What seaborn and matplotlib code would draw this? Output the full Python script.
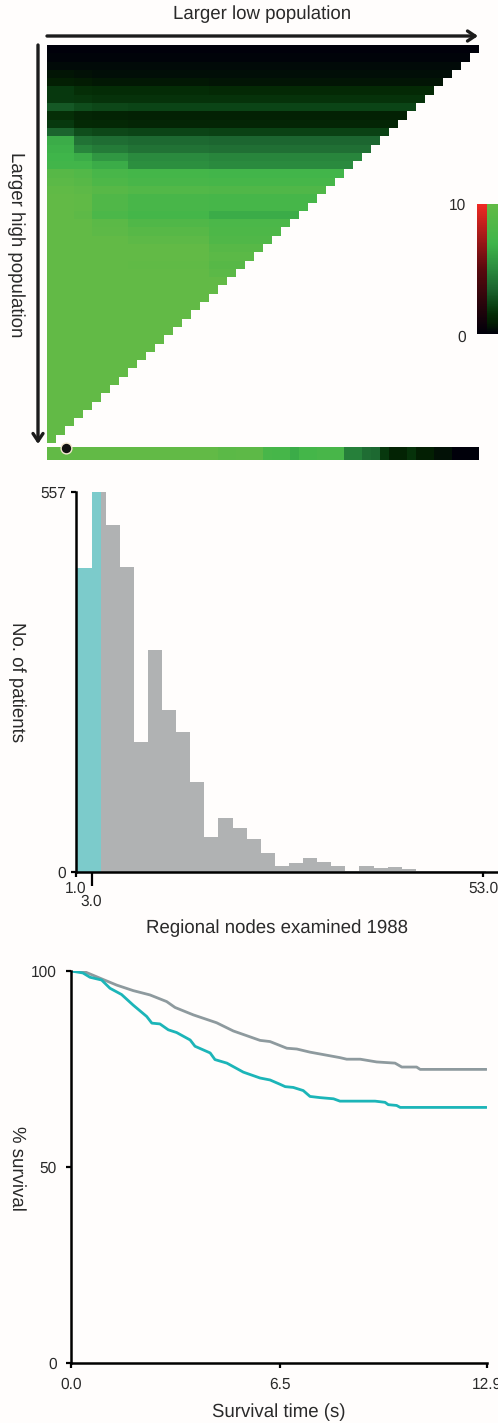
import matplotlib
matplotlib.use("Agg")
import matplotlib.pyplot as plt
from matplotlib.colors import LinearSegmentedColormap
import seaborn as sns
import numpy as np
import pandas as pd

# heatmap: one row of values per high population, columns grouped where colour is the same
group_widths = [3, 2, 4, 9, 16, 14]
heat_rows = [
    [0.0, 0.0, 0.0, 0.0, 0.0, 0.0], [0.1, 0.1, 0.1, 0.1, 0.1, 0.1], [0.3, 0.3, 0.3, 0.3, 0.3, 0.3],
    [0.6, 0.5, 0.4, 0.4, 0.4, 0.4], [0.9, 0.8, 0.7, 0.7, 0.6, 0.6], [1.9, 1.6, 1.5, 1.5, 1.4, 1.4],
    [1.9, 1.8, 1.7, 1.7, 1.7, 1.7], [3.0, 2.6, 2.4, 2.3, 2.3, 2.3], [1.6, 1.2, 1.1, 1.0, 1.0, 1.0],
    [1.9, 1.4, 1.3, 1.2, 1.2, 1.2], [3.4, 2.6, 2.4, 2.3, 2.2, 2.2], [6.6, 4.0, 3.8, 3.6, 3.5, 3.5],
    [6.8, 4.8, 4.4, 4.0, 3.9, 3.9], [7.0, 6.6, 5.6, 5.0, 4.8, 4.8], [7.2, 7.2, 6.6, 5.2, 5.0, 5.0],
    [9.0, 8.6, 7.8, 7.4, 7.2, 7.0], [9.4, 9.0, 8.2, 7.8, 7.6, 7.4], [9.8, 9.6, 9.0, 8.6, 8.4, 8.4],
    [10, 9.8, 8.4, 7.8, 7.6, 7.5], [10, 9.8, 8.4, 7.8, 7.6, 7.4], [10, 9.6, 8.0, 7.4, 6.6, 6.6],
    [10, 10, 9.4, 8.4, 8.0, 7.6], [10, 10, 9.6, 9.0, 8.2, 7.8], [10, 10, 10, 9.6, 8.4, 8.2],
    [10, 10, 10, 10, 9.0, 8.6], [10, 10, 10, 10, 9.4, 9.2], [10, 10, 10, 9.8, 9.0, 9.0],
    [10, 10, 10, 10, 9.4, 9.4], [10, 10, 10, 10, 10, 10], [10, 10, 10, 10, 10, 10],
    [10, 10, 10, 10, 10, 10], [10, 10, 10, 10, 10, 10], [10, 10, 10, 10, 10, 10],
    [10, 10, 10, 10, 10, 10], [10, 10, 10, 10, 10, 10], [10, 10, 10, 10, 10, 10],
    [10, 10, 10, 10, 10, 10], [10, 10, 10, 10, 10, 10], [10, 10, 10, 10, 10, 10],
    [10, 10, 10, 10, 10, 10], [10, 10, 10, 10, 10, 10], [10, 10, 10, 10, 10, 10],
    [10, 10, 10, 10, 10, 10], [10, 10, 10, 10, 10, 10], [10, 10, 10, 10, 10, 10],
    [10, 10, 10, 10, 10, 10], [10, 10, 10, 10, 10, 10], [10, 10, 10, 10, 10, 10],
]
strip_values = [10] * 19 + [9.4, 9.4, 9.6, 9.6, 9.6, 7.8, 7.6, 7.6, 6.6, 7.4, 7.4, 7.8, 7.8, 7.8,
                            4.6, 4.6, 3.8, 3.6, 1.9, 1.1, 1.1, 1.7, 0.9, 0.9, 0.5, 0.5, 0, 0, 0]

# histogram of nodes examined
teal_edges = [1.0, 3.0, 4.2]
teal_counts = [446, 640]
grey_edges = [4.2, 4.8, 6.6, 8.4, 10.2, 12.0, 13.8, 15.6, 17.4, 19.2, 21.0, 22.8, 24.6, 26.4, 28.2,
              30.0, 31.8, 33.6, 35.4, 37.2, 39.0, 40.8, 42.6, 44.4, 46.2, 48.0, 49.8, 51.6, 53.4]
grey_counts = [640, 508, 447, 190, 325, 238, 205, 132, 51, 79, 64, 48, 28, 9, 13, 20, 15, 9, 2, 9,
               6, 7, 4, 2, 1, 1, 1, 1]

# survival curves
grey_time = [0, 0.37, 0.95, 1.42, 1.93, 2.45, 2.97, 3.23, 3.80, 4.52, 5.04, 5.56, 5.87, 6.18, 6.70,
             7.01, 7.42, 8.35, 8.56, 8.98, 9.49, 10.06, 10.27, 10.73, 10.84, 12.9]
grey_surv = [100, 100, 98.0, 96.4, 95.0, 93.9, 92.2, 90.7, 88.8, 86.8, 84.7, 83.2, 82.3, 82.0, 80.3,
             80.1, 79.3, 77.9, 77.5, 77.5, 76.8, 76.5, 75.5, 75.5, 74.9, 74.9]
teal_time = [0, 0.37, 0.59, 0.95, 1.21, 1.57, 1.93, 2.35, 2.51, 2.76, 3.02, 3.28, 3.70, 3.85, 4.32,
             4.47, 4.84, 5.35, 5.87, 6.18, 6.49, 6.65, 6.90, 7.21, 7.42, 7.73, 8.15, 8.35, 9.44,
             9.75, 9.85, 10.11, 10.22, 12.9]
teal_surv = [100, 99.5, 98.4, 97.7, 95.6, 94.0, 91.3, 88.4, 86.7, 86.5, 85.0, 84.3, 82.4, 80.8, 79.1,
             77.4, 76.5, 74.2, 72.7, 72.2, 71.1, 70.5, 70.3, 69.5, 68.0, 67.7, 67.4, 66.8, 66.8,
             66.5, 65.9, 65.7, 65.2, 65.2]

W, H = 498, 1423
BG = "#FFFDFC"
TEXT = "#2a2a2a"
TEAL = "#7CCBCB"
GREY = "#B0B2B3"
LABEL_SIZE = 13.4

sns.set_theme(style="white")
plt.rcParams["font.family"] = ["Liberation Sans", "DejaVu Sans"]
plt.rcParams["text.hinting"] = "none"

green_cmap = LinearSegmentedColormap.from_list("green", [
    (0.0, "#00000a"), (0.08, "#031d03"), (0.15, "#042c06"), (0.22, "#0a4214"),
    (0.35, "#1c6630"), (0.5, "#2a8a3e"), (0.7, "#3fb54a"), (1.0, "#62ba46")])
red_cmap = LinearSegmentedColormap.from_list("red", ["#00000a", "#5a0a0e", "#ee2a24"])


def pixel_axes(fig, left, top, right, bottom):
    ax = fig.add_axes([left / W, 1 - bottom / H, (right - left) / W, (bottom - top) / H])
    ax.set_facecolor(BG)
    return ax


def style_axis(ax, pad):
    sns.despine(ax=ax)
    for side in ("left", "bottom"):
        ax.spines[side].set_linewidth(1.8)
        ax.spines[side].set_color("black")
    ax.tick_params(axis="both", which="major", length=3.5, width=1.6, color="black",
                   labelsize=11.2, labelcolor=TEXT, pad=pad, bottom=True, left=True)


fig = plt.figure(figsize=(W / 100, H / 100), dpi=100, facecolor=BG)

# overlay in pixel units for arrows, dot and free text
overlay = fig.add_axes([0, 0, 1, 1], zorder=5)
overlay.set_xlim(0, W)
overlay.set_ylim(H, 0)
overlay.axis("off")

# heatmap
heat = np.repeat(np.array(heat_rows, dtype=float), group_widths, axis=1)
mask = np.zeros_like(heat, dtype=bool)
for r in range(heat.shape[0]):
    mask[r, heat.shape[1] - r:] = True
ax_heat = pixel_axes(fig, 47, 45, 479, 443)
sns.heatmap(heat, mask=mask, cmap=green_cmap, vmin=0, vmax=10, cbar=False, ax=ax_heat,
            xticklabels=False, yticklabels=False)

ax_strip = pixel_axes(fig, 47, 447, 479, 460)
sns.heatmap(np.array([strip_values]), cmap=green_cmap, vmin=0, vmax=10, cbar=False, ax=ax_strip,
            xticklabels=False, yticklabels=False)

# colour key, two columns
key_levels = np.arange(10, -0.01, -0.05).reshape(-1, 1)
ax_key_r = pixel_axes(fig, 477, 204, 487, 334)
sns.heatmap(key_levels, cmap=red_cmap, vmin=0, vmax=10, cbar=False, ax=ax_key_r,
            xticklabels=False, yticklabels=False)
ax_key_g = pixel_axes(fig, 487, 204, 498, 334)
sns.heatmap(key_levels, cmap=green_cmap, vmin=0, vmax=10, cbar=False, ax=ax_key_g,
            xticklabels=False, yticklabels=False)
overlay.text(466, 206, "10", ha="right", va="center", fontsize=11.2, color=TEXT)
overlay.text(466, 338, "0", ha="right", va="center", fontsize=11.2, color=TEXT)

# arrows and selected cut point
arrow = dict(arrowstyle="->,head_length=0.45,head_width=0.3", color="#1c1c1c", lw=2.4, shrinkA=0, shrinkB=0)
overlay.annotate("", xy=(478, 36), xytext=(47, 36), arrowprops=arrow)
overlay.annotate("", xy=(38, 444), xytext=(38, 45), arrowprops=arrow)
overlay.scatter([66], [448], s=60, color="#111111", edgecolors="#F3E7CF", linewidths=1.0, zorder=6)
overlay.text(262, 14, "Larger low population", ha="center", va="center", fontsize=LABEL_SIZE, color=TEXT)
overlay.text(16, 245, "Larger high population", ha="center", va="center", rotation=270,
             fontsize=LABEL_SIZE, color=TEXT)

# histogram
ax_hist = pixel_axes(fig, 76, 492, 498, 872)
teal_df = pd.DataFrame({"nodes": teal_edges[:-1], "count": teal_counts})
grey_df = pd.DataFrame({"nodes": grey_edges[:-1], "count": grey_counts})
sns.histplot(teal_df, x="nodes", weights="count", bins=teal_edges, color=TEAL, alpha=1, linewidth=0, ax=ax_hist)
sns.histplot(grey_df, x="nodes", weights="count", bins=grey_edges, color=GREY, alpha=1, linewidth=0, ax=ax_hist)
ax_hist.set_xlim(1.0, 54.9)
ax_hist.set_ylim(0, 557)
style_axis(ax_hist, 3.5)
ax_hist.set_xticks([1.0, 53.0], ["1.0", "53.0"])
ax_hist.set_xticks([3.0], ["3.0"], minor=True)
ax_hist.tick_params(axis="x", which="minor", length=10, width=1.6, color="black", bottom=True,
                    labelsize=11.2, labelcolor=TEXT, pad=6)
ax_hist.set_yticks([0, 557], ["0", "557"])
ax_hist.set_xlabel("Regional nodes examined 1988", fontsize=LABEL_SIZE, color=TEXT, va="center")
ax_hist.xaxis.set_label_coords(277, 928, transform=overlay.transData)
ax_hist.set_ylabel("No. of patients", fontsize=LABEL_SIZE, color=TEXT, rotation=270, va="center", ha="center")
ax_hist.yaxis.set_label_coords(17, 682, transform=overlay.transData)

# survival
ax_surv = pixel_axes(fig, 71, 971, 486.5, 1363)
sns.lineplot(x=grey_time, y=grey_surv, color="#8E9A9E", lw=2.0, ax=ax_surv)
sns.lineplot(x=teal_time, y=teal_surv, color="#1CB5B8", lw=2.0, ax=ax_surv)
ax_surv.set_xlim(0, 12.9)
ax_surv.set_ylim(0, 100)
style_axis(ax_surv, 6.5)
ax_surv.set_xticks([0, 6.5, 12.9], ["0.0", "6.5", "12.9"])
ax_surv.set_yticks([0, 50, 100], ["0", "50", "100"])
ax_surv.set_xlabel("Survival time (s)", fontsize=LABEL_SIZE, color=TEXT, va="center")
ax_surv.xaxis.set_label_coords(279, 1412, transform=overlay.transData)
ax_surv.set_ylabel("% survival", fontsize=LABEL_SIZE, color=TEXT, rotation=270, va="center", ha="center")
ax_surv.yaxis.set_label_coords(17, 1168, transform=overlay.transData)

fig.savefig("out.png", dpi=100, facecolor=BG)
